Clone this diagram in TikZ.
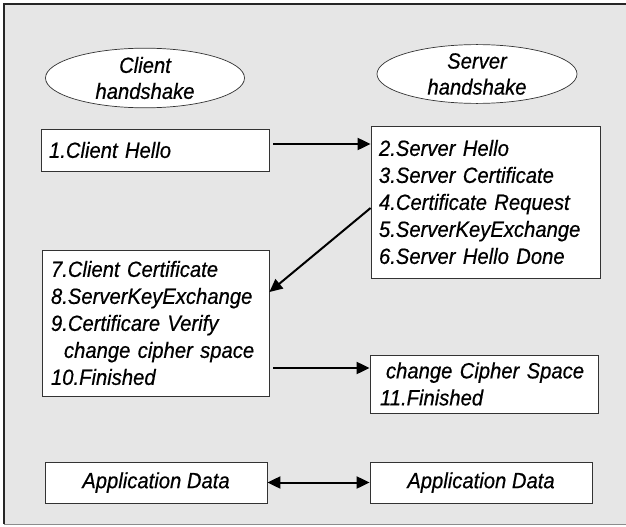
\documentclass[tikz,border=0pt]{standalone}
\usepackage{fontspec}
\setmainfont{Liberation Sans}[FakeStretch=0.92,FakeBold=0.5]
\usetikzlibrary{shapes.geometric,arrows.meta}
\definecolor{bg}{HTML}{E6E6E6}
\definecolor{edge}{HTML}{333333}
\begin{document}
\begin{tikzpicture}[x=1pt,y=-1pt,
  txt/.style={font=\itshape\fontsize{22}{27}\selectfont},
  box/.style={txt, draw=edge, line width=0.8pt, fill=white, align=left, inner ysep=0pt},
  oval/.style={ellipse, draw=edge, fill=white, line width=0.7pt, align=center, inner sep=0pt,
    font=\itshape\fontsize{22}{26}\selectfont},
  flow/.style={-{Triangle[length=13pt,width=12pt]}, line width=2pt, black},
  both/.style={{Triangle[length=13pt,width=12pt]}-{Triangle[length=13pt,width=12pt]}, line width=2pt, black}
]
\useasboundingbox (0,0) rectangle (626,527);
\fill[bg] (4,4) rectangle (626,524);
\draw[line width=1.4pt, black!85] (4,524) -- (4,4) -- (626,4);
\draw[line width=1pt, black!45] (4,524) -- (626,524);

\node[oval, minimum width=199pt, minimum height=58pt] (ce) at (145,78) {Client\\handshake};
\node[oval, minimum width=200pt, minimum height=56pt] (se) at (477,74) {Server\\handshake};

\node[box, minimum width=228pt, minimum height=42pt, inner xsep=8pt, text width=212pt] (ch) at (155,150) {1.Client Hello};
\node[box, minimum width=229pt, minimum height=152pt, inner xsep=8pt, text width=213pt] (sh) at (485.5,202)
  {2.Server Hello\\3.Server Certificate\\4.Certificate Request\\5.ServerKeyExchange\\6.Server Hello Done};
\node[box, minimum width=227pt, minimum height=146pt, inner xsep=9pt, text width=209pt] (cc) at (155.5,323)
  {7.Client Certificate\\8.ServerKeyExchange\\9.Certificare Verify\\\hspace*{13pt}change cipher space\\10.Finished};
\node[box, minimum width=228pt, minimum height=58pt, inner xsep=10pt, text width=208pt] (sf) at (484,384)
  {\hspace*{6pt}change Cipher Space\\11.Finished};
\node[box, minimum width=222pt, minimum height=41pt, align=center] (al) at (156,482.5) {Application Data};
\node[box, minimum width=222pt, minimum height=41pt, align=center] (ar) at (481,482.5) {Application Data};

\draw[flow] ([xshift=4pt,yshift=6pt]ch.east) -- ([yshift=58pt]sh.west);
\draw[flow] ([yshift=-6pt]sh.west) -- ([yshift=31pt]cc.east);
\draw[flow] ([xshift=4pt,yshift=-45pt]cc.east) -- ([yshift=16pt]sf.west);
\draw[both] (al.east) -- (ar.west);
\end{tikzpicture}
\end{document}
